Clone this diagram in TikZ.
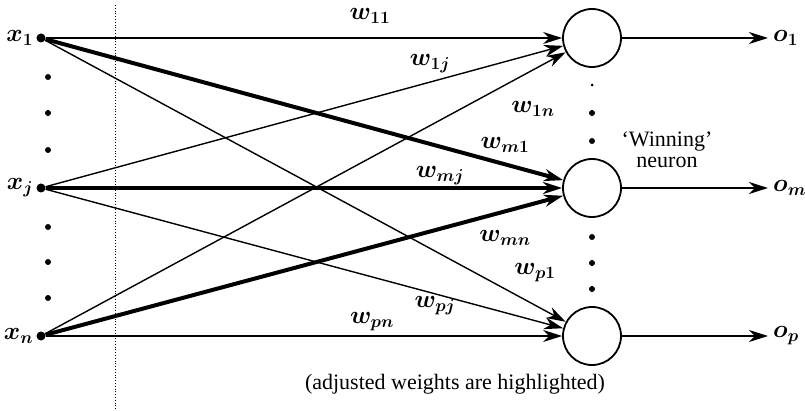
\documentclass[tikz,border=0pt]{standalone}
\usepackage{fontspec}
\setmainfont{Liberation Serif}
\usepackage{tikz}
\usetikzlibrary{positioning,arrows.meta}

\begin{document}
\begin{tikzpicture}[x=1pt,y=-1pt,
    every node/.style={font=\fontsize{22}{25}\selectfont},
    wlab/.style={font=\fontsize{23}{26}\selectfont\boldmath,inner sep=1pt},
    inp/.style={circle,fill,inner sep=0pt,minimum size=9pt},
    dot/.style={circle,fill,inner sep=0pt,minimum size=6pt},
    neuron/.style={circle,draw,line width=1.8pt,minimum size=58pt,inner sep=0pt},
    wire/.style={line width=1.4pt,-{Stealth[length=19pt,width=12pt,inset=6pt]}},
    hot/.style={wire,line width=4pt}]
\useasboundingbox (0,0) rectangle (805,411);
\def\nx{592}
% Inputs
\node[inp] (x1) at (41,38) {};
\node[inp] (xj) at (41,188) {};
\node[inp] (xn) at (41,336) {};
\node[wlab,left=2pt of x1] (lx1) {$x_1$};
\node[wlab,left=2pt of xj] (lxj) {$x_j$};
\node[wlab,left=2pt of xn] (lxn) {$x_n$};
\foreach \y in {77,113,150,227,262,298}
    \node[dot] (d\y) at (48,\y) {};

% Divider
\draw[dotted, line width=0.8pt] (115,5) -- (115,411);

% Neurons
\node[neuron] (n1) at (\nx,38) {};
\node[neuron] (nm) at (\nx,188) {};
\node[neuron] (np) at (\nx,336) {};
\foreach \y in {113,141,237,263,289}
    \node[dot] (e\y) at (\nx,\y) {};
\node[dot, minimum size=3pt] (e85) at (\nx,85) {};

% Outputs
\coordinate (q1) at (768,38);
\coordinate (qm) at (768,188);
\coordinate (qp) at (768,336);
\draw[wire] (n1) -- (q1);
\draw[wire] (nm) -- (qm);
\draw[wire] (np) -- (qp);
\node[wlab,right=4pt of q1] (o1) {$o_1$};
\node[wlab,right=4pt of qm] (om) {$o_m$};
\node[wlab,right=4pt of qp] (op) {$o_p$};

% Weights
\foreach \s in {x1,xj,xn}
    \foreach \t in {n1,np}
        \draw[wire] (\s) -- (\t);
\foreach \s in {x1,xj,xn}
    \draw[hot] (\s) -- (nm);

\node[wlab] (w11) at (370,16) {$w_{11}$};
\node[wlab] (w1j) at (430,64) {$w_{1j}$};
\node[wlab] (w1n) at (533,109) {$w_{1n}$};
\node[wlab] (wm1) at (505,145) {$w_{m1}$};
\node[wlab] (wmj) at (440,176) {$w_{mj}$};
\node[wlab] (wmn) at (505,238) {$w_{mn}$};
\node[wlab] (wp1) at (535,273) {$w_{p1}$};
\node[wlab] (wpj) at (435,306) {$w_{pj}$};
\node[wlab] (wpn) at (372,322) {$w_{pn}$};

\node[align=center] (win) at (667,150) {`Winning'\\[-4pt]neuron};
\node (cap) at (455,384) {(adjusted weights are highlighted)};
\end{tikzpicture}
\end{document}
